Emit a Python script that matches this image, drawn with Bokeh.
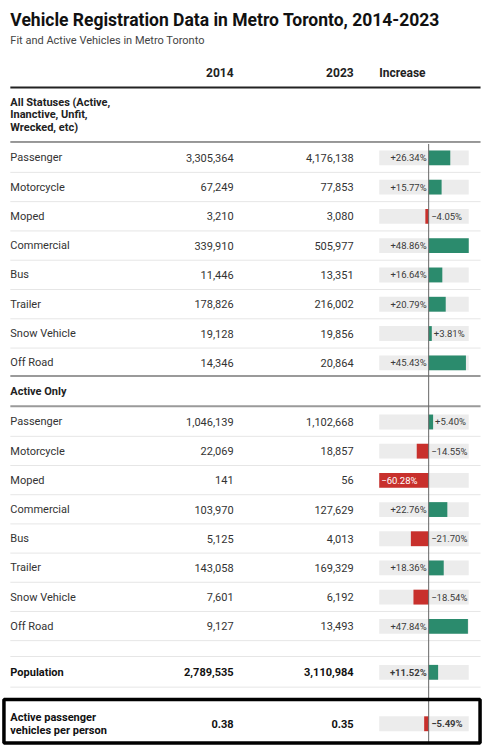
from bokeh.plotting import figure
from bokeh.models import Range1d
from bokeh.core.properties import value
from bokeh.embed import file_html
from bokeh.resources import INLINE

# ---------------- data ----------------
title = "Vehicle Registration Data in Metro Toronto, 2014-2023"
subtitle = "Fit and Active Vehicles in Metro Toronto"
col_headers = ["2014", "2023", "Increase"]
section1_title = ["All Statuses (Active,", "Inanctive, Unfit,", "Wrecked, etc)"]
section2_title = "Active Only"

categories = ["Passenger", "Motorcycle", "Moped", "Commercial", "Bus",
              "Trailer", "Snow Vehicle", "Off Road"]
all_2014 = [3305364, 67249, 3210, 339910, 11446, 178826, 19128, 14346]
all_2023 = [4176138, 77853, 3080, 505977, 13351, 216002, 19856, 20864]
all_pct = [26.34, 15.77, -4.05, 48.86, 16.64, 20.79, 3.81, 45.43]

active_2014 = [1046139, 22069, 141, 103970, 5125, 143058, 7601, 9127]
active_2023 = [1102668, 18857, 56, 127629, 4013, 169329, 6192, 13493]
active_pct = [5.40, -14.55, -60.28, 22.76, -21.70, 18.36, -18.54, 47.84]

pop_label = "Population"
pop_2014, pop_2023, pop_pct = 2789535, 3110984, 11.52

ratio_label = ["Active passenger", "vehicles per person"]
ratio_2014, ratio_2023, ratio_pct = 0.38, 0.35, -5.49

# ---------------- layout / style ----------------
GREEN = "#2b8b6d"
RED = "#c8302c"
BG = "#ececec"
FONT = value("Roboto")
TXT = "#333333"

X0, X1 = 0.0, 491.0
p = figure(width=483, height=747, x_range=Range1d(X0, X1), y_range=Range1d(755, 0),
           output_backend="svg", toolbar_location=None,
           x_axis_location=None, y_axis_location=None,
           min_border=0, min_border_left=0, min_border_right=0,
           min_border_top=0, min_border_bottom=0)
p.grid.visible = False
p.outline_line_color = None
p.background_fill_color = "white"
p.border_fill_color = "white"

BAR_L, BAR_R = 385.0, 476.0
all_vals = all_pct + active_pct + [pop_pct, ratio_pct]
vmin, vmax = min(all_vals), max(all_vals)
slope = (vmax - vmin) / (BAR_R - BAR_L)
p.extra_x_ranges = {"pct": Range1d(vmin - (BAR_L - X0) * slope, vmax + (X1 - BAR_R) * slope)}

LEFT_X = 10.0
C2014_X = 237.0
C2023_X = 359.0
INC_X = 385.0
LINE_L, LINE_R = 10.0, 488.0


def txt(xs, ys, texts, align="left", size="11px", bold=False, color=TXT,
        baseline="middle", rng="default", x_offset=0):
    p.text(x=xs, y=ys, text=texts, text_align=align, text_baseline=baseline,
           text_font=FONT, text_font_size=size,
           text_font_style="bold" if bold else "normal",
           text_color=color, x_range_name=rng, x_offset=x_offset)


def hline(ys, color, width):
    p.segment(x0=[LINE_L] * len(ys), x1=[LINE_R] * len(ys), y0=ys, y1=ys,
              line_color=color, line_width=width)


# title & subtitle
txt([10], [19.5], [title], size="17.5px", bold=True, color="#111111", baseline="alphabetic")
txt([10], [40], [subtitle], size="11px", color="#444444", baseline="alphabetic")

# header
txt([C2014_X, C2023_X], [73, 73], col_headers[:2], align="right", size="12px", bold=True, color="#222222")
txt([INC_X], [73], [col_headers[2]], size="12px", bold=True, color="#222222")
hline([88], "#222222", 2)

# section 1 title
txt([LEFT_X] * 3, [103, 115.5, 128], section1_title, size="11px", bold=True, color="#222222")
hline([143], "#333333", 1)

PITCH1 = 29.6
rows1 = [159 + i * PITCH1 for i in range(len(categories))]
PITCH2 = 29.5
rows2 = [426 + i * PITCH2 for i in range(len(categories))]
pop_y = 679
ratio_y = 731

# separators
hline([y + 14.7 for y in rows1[:-1]], "#e6e6e6", 1)
hline([379.5, 410], "#9a9a9a", 2)
hline([y + 14.5 for y in rows2] + [663, 694], "#e6e6e6", 1)

txt([LEFT_X], [395], [section2_title], bold=True, color="#222222")

# rows
fmt = lambda v: f"{v:,}"
txt([LEFT_X] * 8, rows1, categories)
txt([C2014_X] * 8, rows1, [fmt(v) for v in all_2014], align="right")
txt([C2023_X] * 8, rows1, [fmt(v) for v in all_2023], align="right")
txt([LEFT_X] * 8, rows2, categories)
txt([C2014_X] * 8, rows2, [fmt(v) for v in active_2014], align="right")
txt([C2023_X] * 8, rows2, [fmt(v) for v in active_2023], align="right")

txt([LEFT_X], [pop_y], [pop_label], bold=True, color="#111111")
txt([C2014_X, C2023_X], [pop_y, pop_y], [fmt(pop_2014), fmt(pop_2023)], align="right", bold=True, color="#111111")

txt([LEFT_X, LEFT_X], [ratio_y - 6.5, ratio_y + 6.5], ratio_label, bold=True, color="#111111")
txt([C2014_X, C2023_X], [ratio_y, ratio_y], [f"{ratio_2014:.2f}", f"{ratio_2023:.2f}"],
    align="right", bold=True, color="#111111")

# bars
bar_ys = rows1 + rows2 + [pop_y, ratio_y]
bar_vals = all_pct + active_pct + [pop_pct, ratio_pct]
bar_bold = [False] * 16 + [True, True]
BAR_H = 15
p.hbar(y=bar_ys, left=vmin, right=vmax, height=BAR_H, fill_color=BG, line_color=None,
       x_range_name="pct")
p.hbar(y=bar_ys, left=[min(0, v) for v in bar_vals], right=[max(0, v) for v in bar_vals],
       height=BAR_H, fill_color=[GREEN if v >= 0 else RED for v in bar_vals],
       line_color=None, x_range_name="pct")

# zero line
p.segment(x0=[0], x1=[0], y0=[145], y1=[750], line_color="#666666", line_width=1,
          x_range_name="pct")


def pct_text(v):
    return ("+" if v >= 0 else "\u2212") + f"{abs(v):.2f}%"


for y, v, b in zip(bar_ys, bar_vals, bar_bold):
    t = pct_text(v)
    size = "9.5px"
    if v >= 10:
        txt([0], [y], [t], align="right", size=size, bold=b, rng="pct", x_offset=-2, color="#3a3a3a")
    elif v >= 0:
        txt([v], [y], [t], align="left", size=size, bold=b, rng="pct", x_offset=2, color="#3a3a3a")
    elif v > -50:
        txt([0], [y], [t], align="left", size=size, bold=b, rng="pct", x_offset=2.5, color="#3a3a3a")
    else:
        txt([v], [y], [t], align="left", size=size, bold=b, rng="pct", x_offset=2, color="white")

# highlight box
p.quad(left=[3.5], right=[487.5], top=[706.5], bottom=[750.5], fill_color=None,
       line_color="black", line_width=3.5)

open("out.html", "w").write(file_html(p, INLINE))
